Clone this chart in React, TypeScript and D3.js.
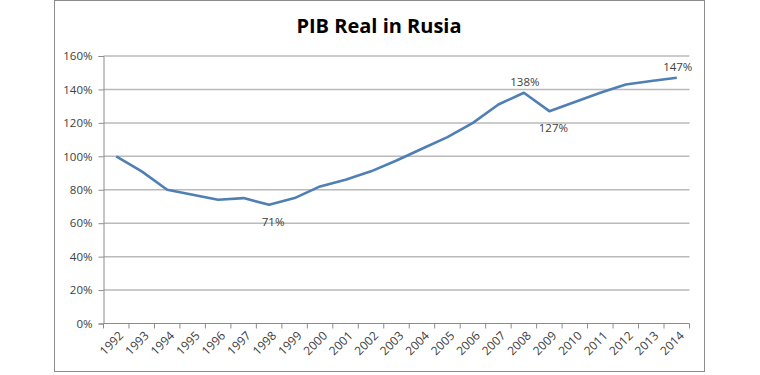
import { useEffect, useRef } from 'react';
import * as d3 from 'd3';

const years = [
  '1992', '1993', '1994', '1995', '1996', '1997', '1998', '1999', '2000', '2001', '2002', '2003',
  '2004', '2005', '2006', '2007', '2008', '2009', '2010', '2011', '2012', '2013', '2014',
];
const gdpIndex = [
  100, 91, 80, 77, 74, 75, 71, 75, 82, 86, 91, 97.5,
  104.5, 111.5, 120, 131, 138, 127, 132.5, 138, 143, 145, 147,
];
const yTicks = [0, 20, 40, 60, 80, 100, 120, 140, 160];
// labelled points: year, text, placement
const callouts = [
  { year: '1998', text: '71%', pos: 'below' },
  { year: '2008', text: '138%', pos: 'above' },
  { year: '2009', text: '127%', pos: 'below' },
  { year: '2014', text: '147%', pos: 'above' },
];

const W = 760;
const H = 375;
const FONT = 'Open Sans, sans-serif';

export default function App() {
  const svgRef = useRef<SVGSVGElement>(null);

  useEffect(() => {
    if (!svgRef.current) return;
    const svg = d3.select(svgRef.current);
    svg.selectAll('*').remove();

    svg.append('rect').attr('width', W).attr('height', H).attr('fill', '#fff');

    // chart frame
    svg.append('rect')
      .attr('x', 54.5).attr('y', 0.5)
      .attr('width', 650).attr('height', 371)
      .attr('fill', '#fff')
      .attr('stroke', '#8c8c8c');

    const x = d3.scaleBand().domain(years).range([103.5, 689.5]).padding(0);
    const y = d3.scaleLinear().domain([0, 160]).range([323.5, 56]);
    const cx = (d: string) => (x(d) as number) + x.bandwidth() / 2;

    // gridlines
    svg.append('g')
      .selectAll('line')
      .data(yTicks.filter(t => t > 0))
      .enter().append('line')
      .attr('x1', 103.5).attr('x2', 689.5)
      .attr('y1', d => y(d)).attr('y2', d => y(d))
      .attr('stroke', '#bababa')
      .attr('stroke-width', 1.5);

    // y axis
    const yAxis = svg.append('g')
      .attr('transform', 'translate(103.5,0)')
      .call(d3.axisLeft(y).tickValues(yTicks).tickSize(5).tickFormat(d => `${d}%`));
    yAxis.select('.domain').attr('stroke', '#8c8c8c');
    yAxis.selectAll('.tick line').attr('stroke', '#8c8c8c');
    yAxis.selectAll('.tick text')
      .attr('x', -11)
      .attr('fill', '#404040')
      .style('font-family', FONT)
      .style('font-size', '11.5px');

    // x axis: baseline, ticks between categories
    const xg = svg.append('g');
    xg.append('line')
      .attr('x1', 103.5).attr('x2', 689.5)
      .attr('y1', y(0)).attr('y2', y(0))
      .attr('stroke', '#8c8c8c');
    const edges = years.map(d => x(d) as number).concat([x.range()[1]]);
    xg.selectAll('line.tk')
      .data(edges)
      .enter().append('line')
      .attr('class', 'tk')
      .attr('x1', d => d).attr('x2', d => d)
      .attr('y1', y(0)).attr('y2', y(0) + 5)
      .attr('stroke', '#8c8c8c');
    xg.selectAll('text')
      .data(years)
      .enter().append('text')
      .attr('transform', d => `translate(${cx(d) + 5},${y(0) + 10}) rotate(-45)`)
      .attr('text-anchor', 'end')
      .attr('dy', '0.35em')
      .attr('fill', '#404040')
      .style('font-family', FONT)
      .style('font-size', '12px')
      .text(d => d);

    // line
    const line = d3.line<number>()
      .x((_, i) => cx(years[i]))
      .y(d => y(d));
    svg.append('path')
      .datum(gdpIndex)
      .attr('d', line)
      .attr('fill', 'none')
      .attr('stroke', '#4f7fb4')
      .attr('stroke-width', 2.6)
      .attr('stroke-linejoin', 'round');

    // data labels
    svg.append('g')
      .selectAll('text')
      .data(callouts)
      .enter().append('text')
      .attr('x', d => cx(d.year) + (d.pos === 'below' ? 4 : 1))
      .attr('y', d => {
        const v = gdpIndex[years.indexOf(d.year)];
        return d.pos === 'below' ? y(v) + 21 : y(v) - 7;
      })
      .attr('text-anchor', 'middle')
      .attr('fill', '#404040')
      .style('font-family', FONT)
      .style('font-size', '11.5px')
      .text(d => d.text);

    // title
    svg.append('text')
      .attr('x', 379).attr('y', 33)
      .attr('text-anchor', 'middle')
      .attr('fill', '#000')
      .style('font-family', FONT)
      .style('font-weight', 'bold')
      .style('font-size', '20px')
      .text('PIB Real in Rusia');
  }, []);

  return (
    <svg
      ref={svgRef}
      width={W}
      height={H}
      viewBox={`0 0 ${W} ${H}`}
      style={{ position: 'absolute', left: 0, top: 0 }}
    />
  );
}
